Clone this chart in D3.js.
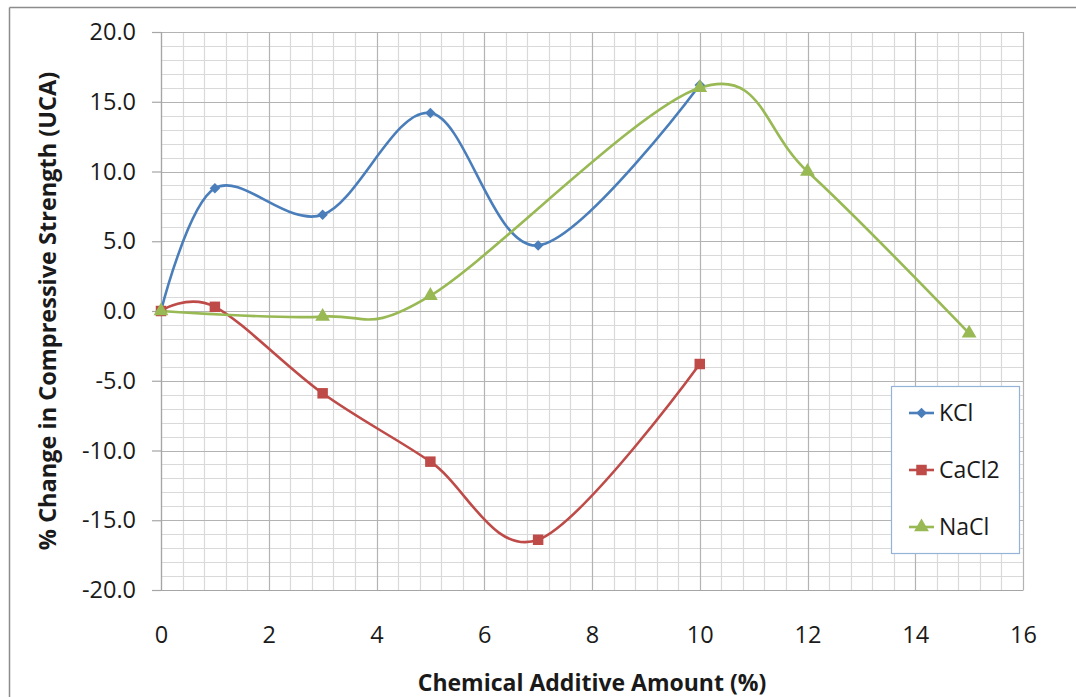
<!DOCTYPE html>
<html>
<head>
<meta charset="utf-8">
<script src="https://cdn.jsdelivr.net/npm/d3@7"></script>
<style>
  html, body { margin: 0; padding: 0; background: #fff; }
  svg { display: block; }
  text { font-family: "Open Sans", sans-serif; fill: #1a1a1a; }
</style>
</head>
<body>
<svg id="chart" width="1076" height="697"></svg>
<script>
// Additive amount (%) for each series
const kclX = [0, 1, 3, 5, 7, 10];
const kclY = [0, 8.8, 6.9, 14.2, 4.7, 16.2];

const cacl2X = [0, 1, 3, 5, 7, 10];
const cacl2Y = [0, 0.3, -5.9, -10.8, -16.4, -3.8];

const naclX = [0, 3, 5, 10, 12, 15];
const naclY = [0, -0.4, 1.1, 16.0, 10.0, -1.6];

const seriesNames = ["KCl", "CaCl2", "NaCl"];
const seriesColors = ["#4a7ebb", "#be4b48", "#98b954"];

const xTicks = [0, 2, 4, 6, 8, 10, 12, 14, 16];
const yTicks = [-20, -15, -10, -5, 0, 5, 10, 15, 20];

const xTitle = "Chemical Additive Amount (%)";
const yTitle = "% Change in Compressive Strength (UCA)";

const svg = d3.select("#chart");
const plot = { left: 161, right: 1023, top: 32, bottom: 590 };

const x = d3.scaleLinear().domain([0, 16]).range([plot.left, plot.right]);
const y = d3.scaleLinear().domain([-20, 20]).range([plot.bottom, plot.top]);

// outer chart frame (top and left edges)
svg.append("line").attr("x1", 9.5).attr("x2", 1076).attr("y1", 7.5).attr("y2", 7.5)
  .attr("stroke", "#8c8c8c").attr("stroke-width", 1.5);
svg.append("line").attr("x1", 9.5).attr("x2", 9.5).attr("y1", 7.5).attr("y2", 697)
  .attr("stroke", "#8c8c8c").attr("stroke-width", 1.5);

// minor grid
const grid = svg.append("g");
const minorX = d3.range(0, 16.001, 0.4).filter(v => Math.abs(v / 2 - Math.round(v / 2)) > 1e-6);
const minorY = d3.range(-20, 20.001, 1).filter(v => v % 5 !== 0);
grid.selectAll(".mx").data(minorX).join("line")
  .attr("x1", d => Math.round(x(d)) + 0.5).attr("x2", d => Math.round(x(d)) + 0.5)
  .attr("y1", plot.top).attr("y2", plot.bottom)
  .attr("stroke", "#d9d9d9").attr("stroke-width", 1.2);
grid.selectAll(".my").data(minorY).join("line")
  .attr("y1", d => Math.round(y(d)) + 0.5).attr("y2", d => Math.round(y(d)) + 0.5)
  .attr("x1", plot.left).attr("x2", plot.right)
  .attr("stroke", "#d9d9d9").attr("stroke-width", 1.2);

// major grid
grid.selectAll(".Mx").data(xTicks).join("line")
  .attr("x1", d => Math.round(x(d)) + 0.5).attr("x2", d => Math.round(x(d)) + 0.5)
  .attr("y1", plot.top).attr("y2", plot.bottom)
  .attr("stroke", "#b3b3b3").attr("stroke-width", 1.2);
grid.selectAll(".My").data(yTicks).join("line")
  .attr("y1", d => Math.round(y(d)) + 0.5).attr("y2", d => Math.round(y(d)) + 0.5)
  .attr("x1", plot.left).attr("x2", plot.right)
  .attr("stroke", "#b3b3b3").attr("stroke-width", 1.2);

// axes
const yAxis = d3.axisLeft(y).tickValues(yTicks).tickFormat(d => d.toFixed(1))
  .tickSize(9).tickPadding(16);
const gy = svg.append("g").attr("transform", `translate(${plot.left},0)`).call(yAxis);
gy.select(".domain").attr("stroke", "#a6a6a6").attr("stroke-width", 1.2);
gy.selectAll(".tick line").attr("stroke", "#a6a6a6").attr("stroke-width", 1.2);
gy.selectAll(".tick text").attr("font-size", 23.5).attr("fill", "#1a1a1a")
  .style("font-family", "'Open Sans', sans-serif");

const xAxis = d3.axisBottom(x).tickValues(xTicks).tickFormat(d3.format("d"))
  .tickSize(0).tickPadding(36);
const gx = svg.append("g").attr("transform", `translate(0,${plot.bottom})`).call(xAxis);
gx.select(".domain").attr("stroke", "#a6a6a6").attr("stroke-width", 1.2);
gx.selectAll(".tick text").attr("font-size", 23.5).attr("fill", "#1a1a1a")
  .style("font-family", "'Open Sans', sans-serif");

// axis titles
svg.append("text").attr("x", 592).attr("y", 691)
  .attr("text-anchor", "middle").attr("font-size", 23).attr("font-weight", "bold")
  .text(xTitle);
svg.append("text")
  .attr("transform", `translate(56,${(plot.top + plot.bottom) / 2}) rotate(-90)`)
  .attr("text-anchor", "middle").attr("font-size", 23.5).attr("font-weight", "bold")
  .text(yTitle);

// series
const series = [
  { name: seriesNames[0], xs: kclX, ys: kclY, color: seriesColors[0], marker: "diamond" },
  { name: seriesNames[1], xs: cacl2X, ys: cacl2Y, color: seriesColors[1], marker: "square" },
  { name: seriesNames[2], xs: naclX, ys: naclY, color: seriesColors[2], marker: "triangle" }
];

const line = d3.line().x(d => x(d[0])).y(d => y(d[1])).curve(d3.curveCatmullRom.alpha(0));

const symbolFor = {
  diamond: d3.symbol().type(d3.symbolDiamond2).size(70),
  square: d3.symbol().type(d3.symbolSquare).size(110),
  triangle: d3.symbol().type(d3.symbolTriangle).size(95)
};

series.forEach(s => {
  const pts = s.xs.map((v, i) => [v, s.ys[i]]);
  svg.append("path").datum(pts).attr("d", line)
    .attr("fill", "none").attr("stroke", s.color).attr("stroke-width", 2.6);
});
series.forEach(s => {
  const pts = s.xs.map((v, i) => [v, s.ys[i]]);
  svg.append("g").selectAll("path").data(pts).join("path")
    .attr("transform", d => `translate(${x(d[0])},${y(d[1])})`)
    .attr("d", symbolFor[s.marker]())
    .attr("fill", s.color);
});

// legend
const lg = svg.append("g");
lg.append("rect").attr("x", 891.5).attr("y", 386.5).attr("width", 128).attr("height", 167)
  .attr("fill", "#fff").attr("stroke", "#95b3d7").attr("stroke-width", 1.2);
series.forEach((s, i) => {
  const cy = 413 + i * 57;
  lg.append("line").attr("x1", 909).attr("x2", 934).attr("y1", cy).attr("y2", cy)
    .attr("stroke", s.color).attr("stroke-width", 2.6);
  lg.append("path").attr("transform", `translate(921.5,${cy})`)
    .attr("d", symbolFor[s.marker]()).attr("fill", s.color);
  lg.append("text").attr("x", 939).attr("y", cy).attr("dy", "0.35em")
    .attr("font-size", 23).text(s.name);
});
</script>
</body>
</html>
